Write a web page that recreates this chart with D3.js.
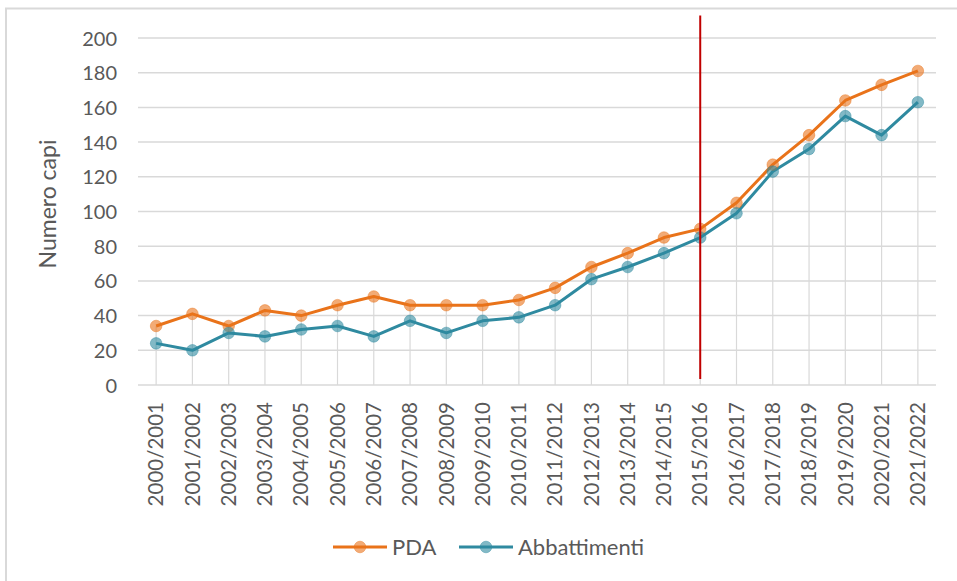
<!DOCTYPE html>
<html><head><meta charset="utf-8">
<script src="https://cdn.jsdelivr.net/npm/d3@7"></script>
<style>body{margin:0;background:#fff}svg{display:block}text{font-family:Lato,"Open Sans",sans-serif;fill:#595959}</style>
</head><body><svg id="c" width="957" height="581"></svg>
<script>
const categories = ["2000/2001","2001/2002","2002/2003","2003/2004","2004/2005","2005/2006","2006/2007","2007/2008","2008/2009","2009/2010","2010/2011","2011/2012","2012/2013","2013/2014","2014/2015","2015/2016","2016/2017","2017/2018","2018/2019","2019/2020","2020/2021","2021/2022"];
const pda = [34,41,34,43,40,46,51,46,46,46,49,56,68,76,85,90,105,127,144,164,173,181];
const abbattimenti = [24,20,30,28,32,34,28,37,30,37,39,46,61,68,76,85,99,123,136,155,144,163];
const yTicks = [0,20,40,60,80,100,120,140,160,180,200];
const seriesNames = ["PDA","Abbattimenti"];
const seriesColors = ["#E9731A","#2F8AA0"];
const markerLine = {category:"2015/2016", from:3.5, to:213};

const svg = d3.select("#c");
// outer border
svg.append("rect").attr("x",6).attr("y",8.5).attr("width",960).attr("height",600)
  .attr("fill","none").attr("stroke","#D9D9D9").attr("stroke-width",2);

const x = d3.scaleBand().domain(categories).range([138,936]).padding(0);
const y = d3.scaleLinear().domain([0,200]).range([385,38]);
const cx = c => x(c) + x.bandwidth()/2;

// horizontal gridlines
svg.append("g").selectAll("line").data(yTicks).join("line")
  .attr("x1",138).attr("x2",936).attr("y1",d=>y(d)).attr("y2",d=>y(d))
  .attr("stroke","#D9D9D9").attr("stroke-width",1.5);

// drop lines
svg.append("g").selectAll("line").data(categories).join("line")
  .attr("x1",d=>cx(d)).attr("x2",d=>cx(d))
  .attr("y1",y(0)).attr("y2",(d,i)=>y(Math.max(pda[i],abbattimenti[i])))
  .attr("stroke","#D9D9D9").attr("stroke-width",1.2);

// y axis labels
const yAxis = d3.axisLeft(y).tickValues(yTicks).tickSize(0).tickPadding(0);
const ga = svg.append("g").attr("transform","translate(117,0)").call(yAxis);
ga.select(".domain").remove();
ga.selectAll("text").style("font-size","20px").attr("fill","#595959").attr("dy","0.35em");

// x axis labels
const xAxis = d3.axisBottom(x).tickSize(0).tickPadding(0);
const gx = svg.append("g").attr("transform","translate(0,402)").call(xAxis);
gx.select(".domain").remove();
gx.selectAll("text").style("font-size","20.5px").attr("fill","#595959")
  .attr("transform","rotate(-90)").attr("text-anchor","end").attr("x",0).attr("y",0).attr("dy","0.35em");

// y title
svg.append("text").attr("transform","translate(48,204) rotate(-90)")
  .attr("text-anchor","middle").attr("dy","0.35em").style("font-size","23px").text("Numero capi");

// lines
const allSeries = [pda, abbattimenti];
const line = d3.line().x((d,i)=>cx(categories[i])).y(d=>y(d));
allSeries.forEach((s,k)=>{
  svg.append("path").datum(s).attr("d",line).attr("fill","none")
    .attr("stroke",seriesColors[k]).attr("stroke-width",3).attr("stroke-linejoin","round");
});
allSeries.forEach((s,k)=>{
  svg.append("g").selectAll("circle").data(s).join("circle")
    .attr("cx",(d,i)=>cx(categories[i])).attr("cy",d=>y(d)).attr("r",5.8)
    .attr("fill",seriesColors[k]).attr("fill-opacity",0.6)
    .attr("stroke",seriesColors[k]).attr("stroke-opacity",0.45).attr("stroke-width",1);
});

// red vertical line
svg.append("line").attr("x1",cx(markerLine.category)).attr("x2",cx(markerLine.category))
  .attr("y1",y(markerLine.to)).attr("y2",y(markerLine.from))
  .attr("stroke","#C00000").attr("stroke-width",2);

// legend
const legendX = [333,459];
const lg = svg.append("g");
seriesNames.forEach((n,k)=>{
  const lx = legendX[k];
  lg.append("line").attr("x1",lx).attr("x2",lx+54).attr("y1",547).attr("y2",547)
    .attr("stroke",seriesColors[k]).attr("stroke-width",3);
  lg.append("circle").attr("cx",lx+27).attr("cy",547).attr("r",5.8)
    .attr("fill",seriesColors[k]).attr("fill-opacity",0.6)
    .attr("stroke",seriesColors[k]).attr("stroke-opacity",0.45);
  lg.append("text").attr("x",lx+59).attr("y",547).attr("dy","0.35em").style("font-size","22px").text(n);
});
</script></body></html>
